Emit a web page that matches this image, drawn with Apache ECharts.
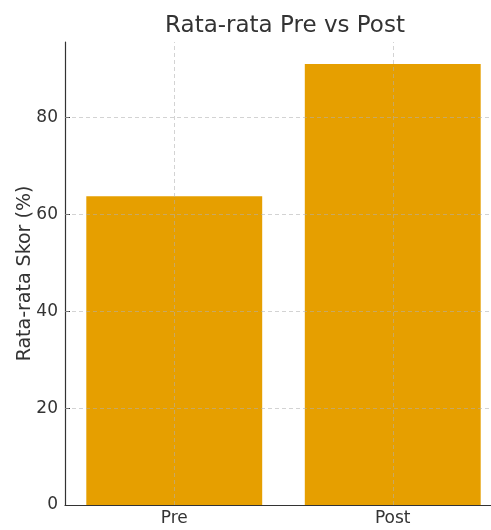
<!DOCTYPE html>
<html>
<head>
<meta charset="utf-8">
<script src="https://cdn.jsdelivr.net/npm/echarts@6/dist/echarts.min.js"></script>
<style>
  html, body { margin: 0; padding: 0; background: #fff; overflow: hidden; }
  /* the plot area runs slightly past the right edge of the window */
  #chart { width: 505px; height: 530px; }
</style>
</head>
<body>
<div id="chart"></div>
<script>
// Average scores before and after
const categories = ['Pre', 'Post'];
const scores = [63.7, 91.0];
const yTicks = [0, 20, 40, 60, 80];

const FONT = 'DejaVu Sans';
const TEXT = '#333333';
const gridStyle = { color: 'rgba(176,176,176,0.7)', width: 0.8, type: [4, 3] };

const chart = echarts.init(document.getElementById('chart'), null, { renderer: 'canvas' });

chart.setOption({
  animation: false,
  backgroundColor: '#ffffff',
  title: {
    text: 'Rata-rata Pre vs Post',
    left: 280,
    top: 10,
    textAlign: 'center',
    textStyle: { fontFamily: FONT, fontSize: 23, fontWeight: 'normal', color: TEXT }
  },
  grid: { left: 65, top: 42, right: 3, bottom: 25, containLabel: false },
  xAxis: {
    type: 'category',
    data: categories,
    z: 3,
    axisLine: { lineStyle: { color: TEXT, width: 1.2 } },
    axisTick: { alignWithLabel: true, inside: true, length: 5, lineStyle: { color: TEXT } },
    axisLabel: { fontFamily: FONT, fontSize: 17, color: TEXT, margin: 5 },
    splitLine: { show: false }
  },
  yAxis: {
    type: 'value',
    min: 0,
    max: 95.55,
    z: 3,
    name: 'Rata-rata Skor (%)',
    nameLocation: 'middle',
    nameGap: 30,
    nameMoveOverlap: false,
    nameTextStyle: { fontFamily: FONT, fontSize: 19, color: TEXT },
    axisLine: { show: true, lineStyle: { color: TEXT, width: 1.2 } },
    axisTick: { show: true, inside: true, length: 5, customValues: yTicks, lineStyle: { color: TEXT } },
    axisLabel: { fontFamily: FONT, fontSize: 17, color: TEXT, margin: 7, customValues: yTicks },
    splitLine: { show: false }
  },
  series: [{
    type: 'bar',
    data: scores,
    barWidth: '80.5%',
    itemStyle: { color: '#E69F00' },
    // dashed grid drawn over the bars
    markLine: {
      silent: true,
      symbol: 'none',
      label: { show: false },
      lineStyle: gridStyle,
      data: categories.map(c => ({ xAxis: c }))
        .concat(yTicks.filter(v => v > 0).map(v => ({ yAxis: v })))
    }
  }]
});
</script>
</body>
</html>
